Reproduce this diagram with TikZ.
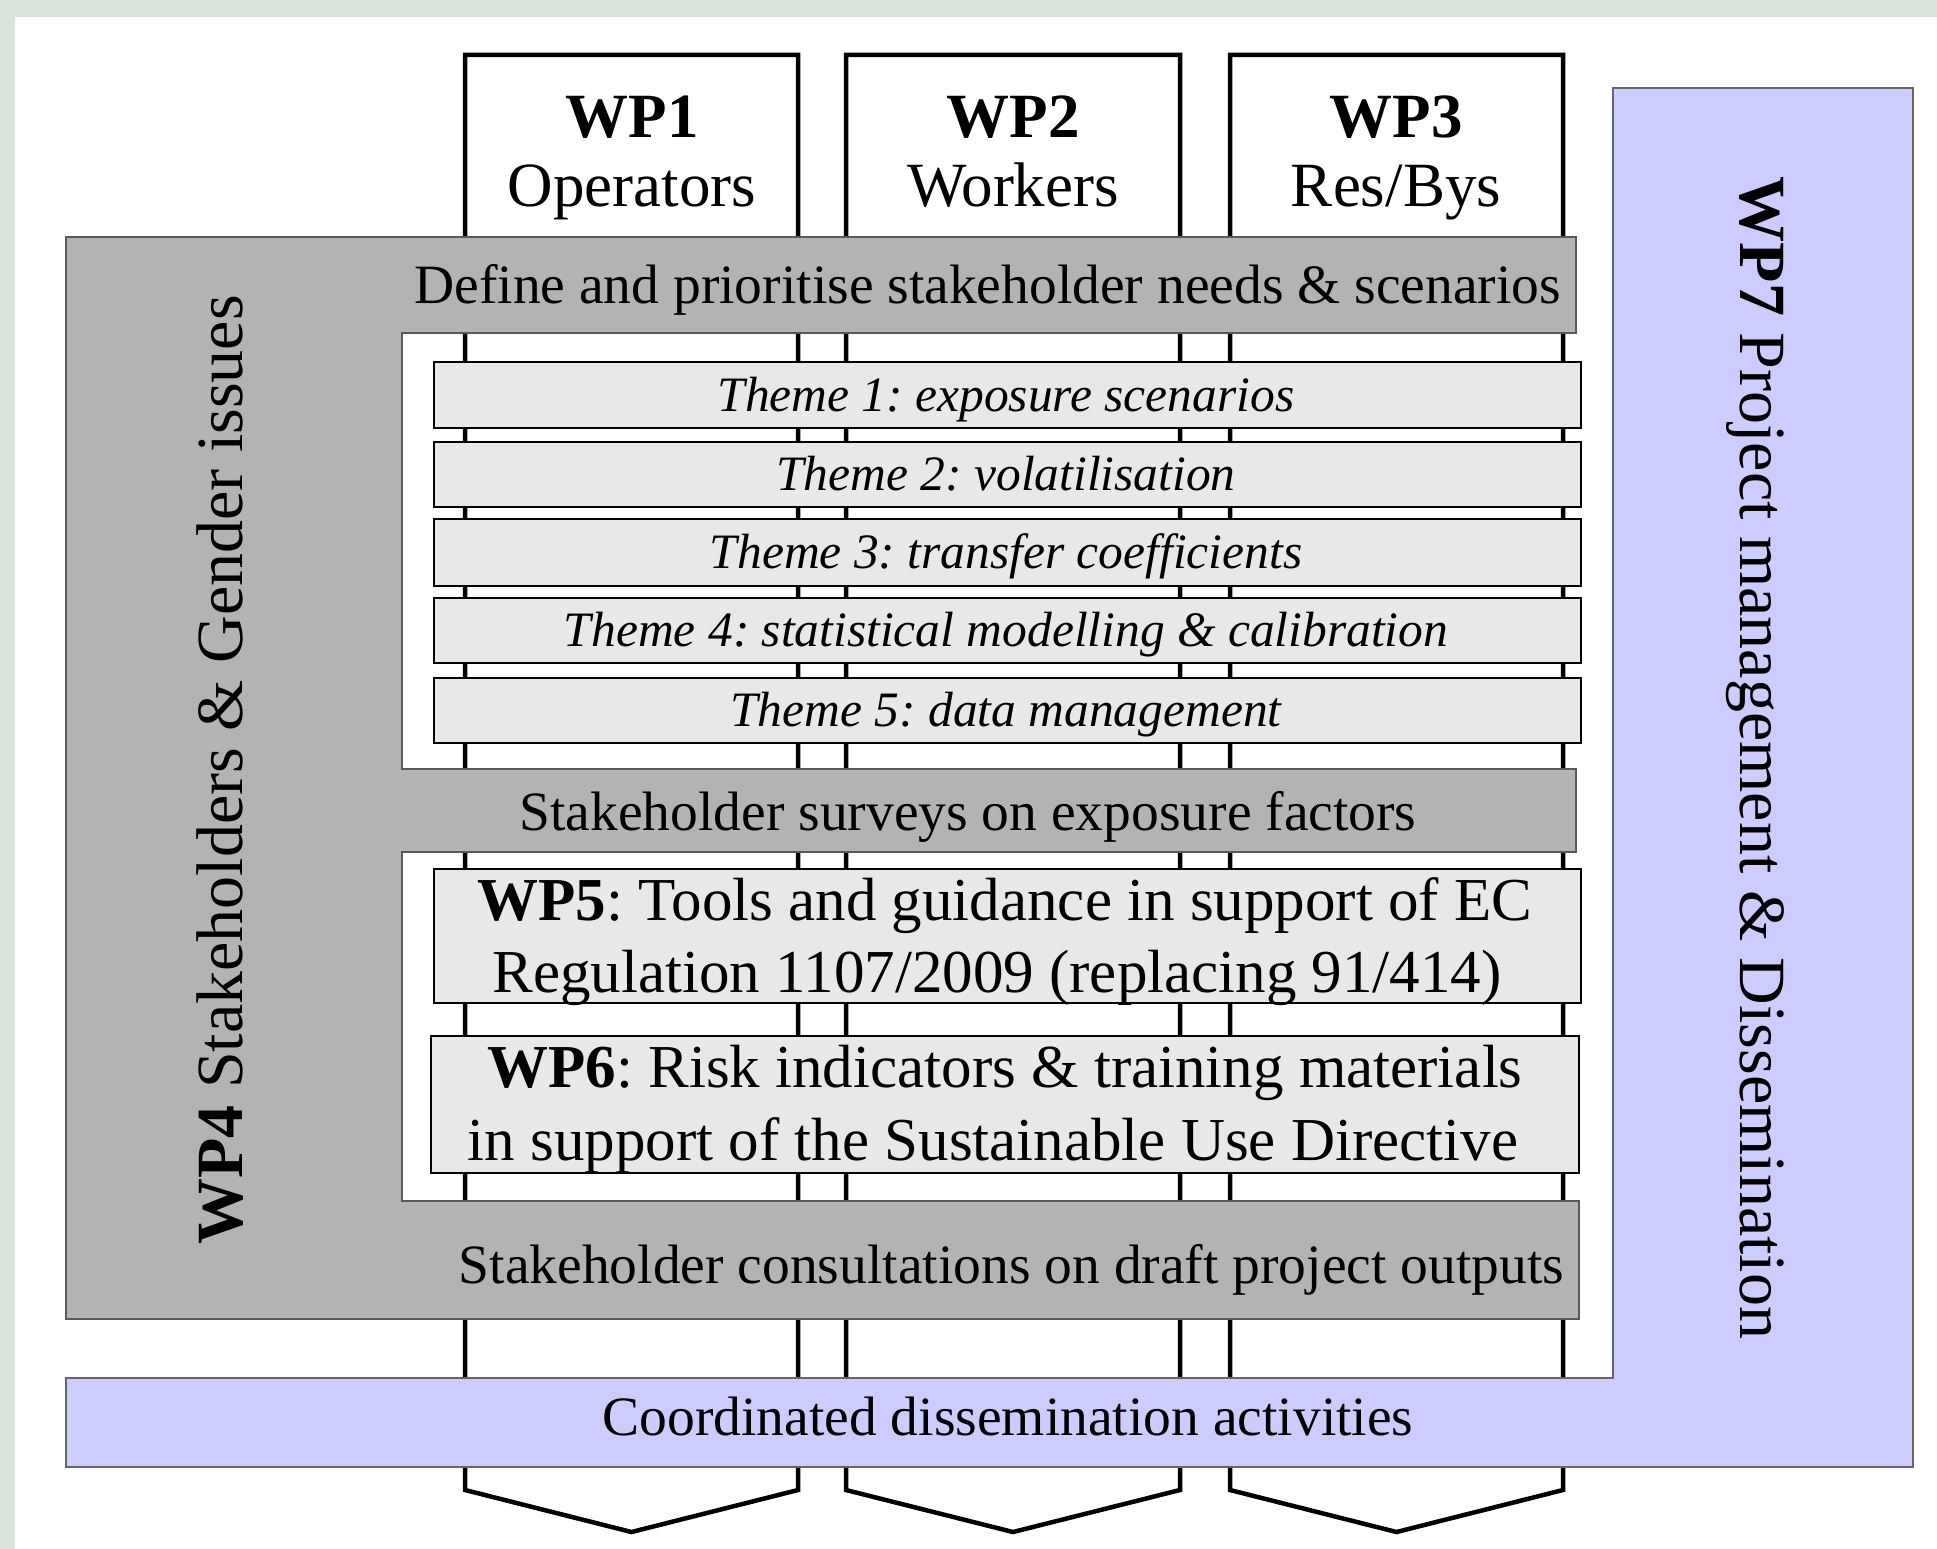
\documentclass[tikz,border=0pt]{standalone}
\usepackage{fontspec}
\setmainfont{Liberation Serif}
\definecolor{framegreen}{RGB}{217,227,217}
\definecolor{wpgray}{RGB}{179,179,179}
\definecolor{themegray}{RGB}{232,232,232}
\definecolor{wplavender}{RGB}{204,204,255}
\newcommand\setfs[1]{\fontsize{#1}{#1}\selectfont}
\frenchspacing

\begin{document}
\begin{tikzpicture}[x=1pt,y=-1pt,
  wpcolumn/.style={draw=black, line width=4.5pt, fill=white, line join=miter},
  wpband/.style={draw=black!65, line width=2pt, fill=wpgray, line join=miter},
  wpmgmt/.style={draw=black!60, line width=2pt, fill=wplavender, line join=miter},
  themebox/.style={draw=black, line width=2pt, fill=themegray, rectangle, inner sep=0pt, anchor=north west},
  txt/.style={inner sep=0pt, outer sep=0pt, anchor=base, font=\setfs{55.5}},
  coltitle/.style={txt, font=\setfs{63}\bfseries},
  colsub/.style={txt, font=\setfs{63}},
  themetxt/.style={txt, font=\setfs{49.5}\itshape},
  wptxt/.style={txt, font=\setfs{61}},
  sidetxt/.style={txt, font=\setfs{66}}
]
% page and frame
\useasboundingbox (0,0) rectangle (1937,1549);
\fill[white] (0,0) rectangle (1937,1549);
\fill[framegreen] (0,0) rectangle (1937,17);
\fill[framegreen] (0,0) rectangle (15,1549);

% the three stakeholder columns, each ending in a chevron
\foreach \name/\l/\r in {wpa/465/798, wpb/846/1180, wpc/1230/1563}{
  \draw[wpcolumn] (\l,55) -- (\r,55) -- (\r,1490) -- ({(\l+\r)/2},1532) -- (\l,1490) -- cycle;
}

% WP4 stakeholder frame with two open cut-outs
\draw[wpband] (66,237) -- (1576,237) -- (1576,333) -- (402,333) -- (402,769)
  -- (1576,769) -- (1576,852) -- (402,852) -- (402,1201) -- (1579,1201)
  -- (1579,1319) -- (66,1319) -- cycle;

% research themes
\node[themebox, minimum width=1147pt, minimum height=66pt] (theme1) at (433,361) {};
\node[themebox, minimum width=1147pt, minimum height=65pt] (theme2) at (433,441) {};
\node[themebox, minimum width=1147pt, minimum height=67pt] (theme3) at (433,518) {};
\node[themebox, minimum width=1147pt, minimum height=65pt] (theme4) at (433,597) {};
\node[themebox, minimum width=1147pt, minimum height=65pt] (theme5) at (433,677) {};

% WP5 and WP6 output boxes
\node[themebox, minimum width=1147pt, minimum height=134pt] (wp5) at (433,868) {};
\node[themebox, minimum width=1148pt, minimum height=137pt] (wp6) at (430,1035) {};

% WP7 management and dissemination frame
\draw[wpmgmt] (1613,88) -- (1913,88) -- (1913,1467) -- (66,1467) -- (66,1378)
  -- (1613,1378) -- cycle;

% column headings
\node[coltitle] (wpaT) at (632,138) {WP1};
\node[colsub]   (wpaS) at (632,207) {Operators};
\node[coltitle] (wpbT) at (1013,138) {WP2};
\node[colsub]   (wpbS) at (1013,207) {Workers};
\node[coltitle] (wpcT) at (1396,138) {WP3};
\node[colsub]   (wpcS) at (1396,207) {Res/Bys};

% band labels
\node[txt, anchor=base east] (define) at (1561,303) {Define and prioritise stakeholder needs \& scenarios};
\node[txt] (surveys) at (968,830) {Stakeholder surveys on exposure factors};
\node[txt, anchor=base east] (consult) at (1564,1283) {Stakeholder consultations on draft project outputs};
\node[txt] (coord) at (1008,1435) {Coordinated dissemination activities};

% theme labels
\node[themetxt] (t1) at (1006,411) {Theme 1: exposure scenarios};
\node[themetxt] (t2) at (1006,490) {Theme 2: volatilisation};
\node[themetxt] (t3) at (1006,568) {Theme 3: transfer coefficients};
\node[themetxt] (t4) at (1006,646) {Theme 4: statistical modelling \& calibration};
\node[themetxt] (t5) at (1006,726) {Theme 5: data management};

% WP5 and WP6 labels
\node[wptxt] (wp5a) at (1005,920) {\textbf{WP5}: Tools and guidance in support of EC};
\node[wptxt] (wp5b) at (997,992) {Regulation 1107/2009 (replacing 91/414)};
\node[wptxt] (wp6a) at (1005,1087) {\textbf{WP6}: Risk indicators \& training materials};
\node[wptxt] (wp6b) at (993,1160) {in support of the Sustainable Use Directive};

% rotated side labels
\node[sidetxt, rotate=90] (wp4lbl) at (242,770) {\textbf{WP4} Stakeholders \& Gender issues};
\node[sidetxt, rotate=-90] (wp7lbl) at (1740,758) {\textbf{WP7} Project management \& Dissemination};
\end{tikzpicture}
\end{document}
